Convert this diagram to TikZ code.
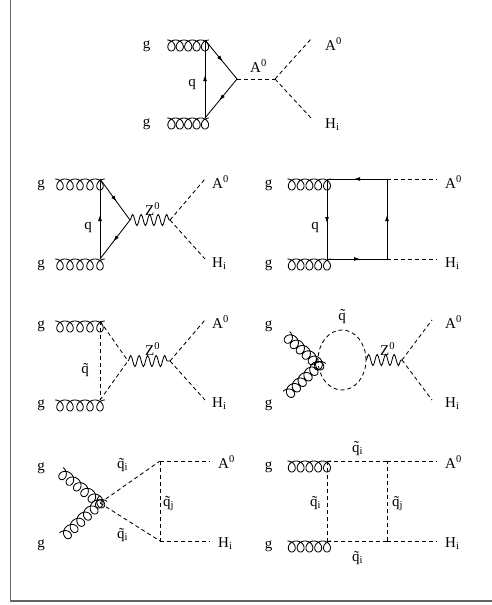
\documentclass[tikz,border=0pt]{standalone}
\usepackage{fontspec}
\setmainfont{Liberation Serif}
\usetikzlibrary{decorations.pathmorphing,decorations.markings,arrows.meta,calc}
\tikzset{
  fermion/.style={line width=0.85pt, postaction={decorate},
    decoration={markings, mark=at position 0.55 with {\arrow{Latex[length=6pt,width=4pt]}}}},
  scalar/.style={line width=0.85pt, dash pattern=on 4pt off 3pt},
  gluon/.style={line width=0.85pt, to path={
    let \p1=(\tikztostart), \p2=(\tikztotarget), \n1={(\x2-\x1)/(31.4159)} in
    plot[domain=3.14159:34.5575, samples=220, smooth, variable=\t]
      ({\x1+\n1*\t*1pt-5.5pt*sin(\t r)}, {\y1-5.5pt*(1+cos(\t r))})}},
  dgluon/.style={line width=0.85pt, to path={
    let \p1=(\tikztostart), \p2=(\tikztotarget),
        \n1={veclen(\x2-\x1,\y2-\y1)/37.6991},
        \n2={atan2(\y2-\y1,\x2-\x1)} in
    plot[domain=3.14159:40.8407, samples=260, smooth, variable=\t]
      ({\x1+(cos(\n2)*(\n1*\t-5.5*sin(\t r))+sin(\n2)*5.5*cos(\t r))*1pt},
       {\y1+(sin(\n2)*(\n1*\t-5.5*sin(\t r))-cos(\n2)*5.5*cos(\t r))*1pt})}},
  boson/.style={line width=0.85pt, decorate,
    decoration={snake, amplitude=5.5pt, segment length=8.5pt}},
  lbl/.style={font=\fontsize{15}{17}\selectfont, inner sep=0pt},
  frameline/.style={draw=black!60, line width=1.6pt}
}
\begin{document}
\begin{tikzpicture}[x=1pt,y=-1pt]
\useasboundingbox (0,0) rectangle (492,605);
\draw[frameline] (10.5,0) -- (10.5,601) -- (492,601);

% ---------- Diagram 1 ----------
\coordinate (d1ga) at (163,40);
\coordinate (d1a) at (205,40);
\coordinate (d1b) at (205,118);
\coordinate (d1gb) at (163,118);
\coordinate (d1c) at (237,79);
\coordinate (d1d) at (275,79);
\coordinate (d1e) at (311,39);
\coordinate (d1f) at (311,118);
\draw[gluon] (d1ga) to (d1a);
\draw[gluon] (d1gb) to (d1b);
\draw[fermion] (d1b) -- (d1a);
\draw[fermion] (d1a) -- (d1c);
\draw[fermion] (d1c) -- (d1b);
\draw[scalar] (d1c) -- (d1d);
\draw[scalar] (d1d) -- (d1e);
\draw[scalar] (d1d) -- (d1f);
\node[lbl, anchor=base] (l1g1) at (146.5,48.5) {g};
\node[lbl, anchor=base] (l1g2) at (146.5,126.5) {g};
\node[lbl, anchor=base] (l1q) at (192,86.5) {q};
\node[lbl, anchor=base west] (l1a) at (250,72) {A\textsuperscript{0}};
\node[lbl, anchor=base west] (l1A) at (325,50) {A\textsuperscript{0}};
\node[lbl, anchor=base west] (l1H) at (325,128) {H\textsubscript{i}};

% ---------- Diagram 2 left ----------
\coordinate (d2ga) at (50,179);
\coordinate (d2a) at (100,179);
\coordinate (d2b) at (100,259);
\coordinate (d2gb) at (50,259);
\coordinate (d2c) at (130,220);
\coordinate (d2z) at (170,220);
\coordinate (d2e) at (205,179);
\coordinate (d2f) at (205,259);
\draw[gluon] (d2ga) to (d2a);
\draw[gluon] (d2gb) to (d2b);
\draw[fermion] (d2b) -- (d2a);
\draw[fermion] (d2a) -- (d2c);
\draw[fermion] (d2c) -- (d2b);
\draw[boson] (d2c) -- (d2z);
\draw[scalar] (d2z) -- (d2e);
\draw[scalar] (d2z) -- (d2f);
\node[lbl, anchor=base] (l2g1) at (41,187.5) {g};
\node[lbl, anchor=base] (l2g2) at (41,267.5) {g};
\node[lbl, anchor=base] (l2q) at (88,229) {q};
\node[lbl, anchor=base west] (l2z) at (145,215) {Z\textsuperscript{0}};
\node[lbl, anchor=base west] (l2A) at (212,188) {A\textsuperscript{0}};
\node[lbl, anchor=base west] (l2H) at (212,267) {H\textsubscript{i}};

% ---------- Diagram 2 right ----------
\coordinate (d2rga) at (283,179);
\coordinate (d2ra) at (327,179);
\coordinate (d2rb) at (327,259);
\coordinate (d2rgb) at (283,259);
\coordinate (d2rc) at (387,259);
\coordinate (d2rd) at (387,179);
\coordinate (d2re) at (437,179);
\coordinate (d2rf) at (437,259);
\draw[gluon] (d2rga) to (d2ra);
\draw[gluon] (d2rgb) to (d2rb);
\draw[fermion] (d2ra) -- (d2rb);
\draw[fermion] (d2rb) -- (d2rc);
\draw[fermion] (d2rc) -- (d2rd);
\draw[fermion] (d2rd) -- (d2ra);
\draw[scalar] (d2rd) -- (d2re);
\draw[scalar] (d2rc) -- (d2rf);
\node[lbl, anchor=base] (l3g1) at (268.5,187.5) {g};
\node[lbl, anchor=base] (l3g2) at (268.5,267.5) {g};
\node[lbl, anchor=base] (l3q) at (315,229) {q};
\node[lbl, anchor=base west] (l3A) at (445,188) {A\textsuperscript{0}};
\node[lbl, anchor=base west] (l3H) at (445,267) {H\textsubscript{i}};

% ---------- Diagram 3 left ----------
\coordinate (d3ga) at (50,321);
\coordinate (d3a) at (100,321);
\coordinate (d3b) at (100,400);
\coordinate (d3gb) at (50,400);
\coordinate (d3c) at (128,361);
\coordinate (d3z) at (170,361);
\coordinate (d3e) at (205,320);
\coordinate (d3f) at (205,400);
\draw[gluon] (d3ga) to (d3a);
\draw[gluon] (d3gb) to (d3b);
\draw[scalar] (d3a) -- (d3b);
\draw[scalar] (d3a) -- (d3c);
\draw[scalar] (d3b) -- (d3c);
\draw[boson] (d3c) -- (d3z);
\draw[scalar] (d3z) -- (d3e);
\draw[scalar] (d3z) -- (d3f);
\node[lbl, anchor=base] (l4g1) at (41,328.5) {g};
\node[lbl, anchor=base] (l4g2) at (41,407.5) {g};
\node[lbl, anchor=base] (l4q) at (85,373.5) {\~{q}};
\node[lbl, anchor=base west] (l4z) at (145,355) {Z\textsuperscript{0}};
\node[lbl, anchor=base west] (l4A) at (212,328) {A\textsuperscript{0}};
\node[lbl, anchor=base west] (l4H) at (212,407) {H\textsubscript{i}};

% ---------- Diagram 3 right ----------
\coordinate (d3rga) at (283,333);
\coordinate (d3rgb) at (284,398);
\coordinate (d3rv) at (319,365);
\coordinate (d3rm) at (342,360);
\coordinate (d3rw) at (366,360);
\coordinate (d3rz) at (402,360);
\coordinate (d3re) at (432,320);
\coordinate (d3rf) at (432,400);
\draw[dgluon] (d3rga) to (d3rv);
\draw[dgluon] (d3rgb) to (d3rv);
\draw[scalar] (d3rm) ellipse [x radius=24pt, y radius=30pt];
\draw[boson] (d3rw) -- (d3rz);
\draw[scalar] (d3rz) -- (d3re);
\draw[scalar] (d3rz) -- (d3rf);
\node[lbl, anchor=base] (l5g1) at (268.5,328.5) {g};
\node[lbl, anchor=base] (l5g2) at (268.5,407.5) {g};
\node[lbl, anchor=base] (l5q) at (342,320) {\~{q}};
\node[lbl, anchor=base west] (l5z) at (380,355) {Z\textsuperscript{0}};
\node[lbl, anchor=base west] (l5A) at (445,328) {A\textsuperscript{0}};
\node[lbl, anchor=base west] (l5H) at (445,407) {H\textsubscript{i}};

% ---------- Diagram 4 left ----------
\coordinate (d4ga) at (56,469);
\coordinate (d4gb) at (60,540);
\coordinate (d4v) at (100,503);
\coordinate (d4a) at (160,461);
\coordinate (d4b) at (160,541);
\coordinate (d4e) at (210,461);
\coordinate (d4f) at (210,541);
\draw[dgluon] (d4ga) to (d4v);
\draw[dgluon] (d4gb) to (d4v);
\draw[scalar] (d4v) -- (d4a);
\draw[scalar] (d4v) -- (d4b);
\draw[scalar] (d4a) -- (d4b);
\draw[scalar] (d4a) -- (d4e);
\draw[scalar] (d4b) -- (d4f);
\node[lbl, anchor=base] (l6g1) at (41,470) {g};
\node[lbl, anchor=base] (l6g2) at (41,547) {g};
\node[lbl, anchor=base west] (l6q1) at (117,468.5) {\~{q}\textsubscript{i}};
\node[lbl, anchor=base west] (l6q2) at (117,538.5) {\~{q}\textsubscript{i}};
\node[lbl, anchor=base west] (l6q3) at (163,506.5) {\~{q}\textsubscript{j}};
\node[lbl, anchor=base west] (l6A) at (218,468) {A\textsuperscript{0}};
\node[lbl, anchor=base west] (l6H) at (218,547) {H\textsubscript{i}};

% ---------- Diagram 4 right ----------
\coordinate (d4rga) at (283,461);
\coordinate (d4ra) at (327,461);
\coordinate (d4rb) at (327,541);
\coordinate (d4rgb) at (283,541);
\coordinate (d4rc) at (387,541);
\coordinate (d4rd) at (387,461);
\coordinate (d4re) at (437,461);
\coordinate (d4rf) at (437,541);
\draw[gluon] (d4rga) to (d4ra);
\draw[gluon] (d4rgb) to (d4rb);
\draw[scalar] (d4ra) -- (d4rb);
\draw[scalar] (d4rb) -- (d4rc);
\draw[scalar] (d4rc) -- (d4rd);
\draw[scalar] (d4rd) -- (d4ra);
\draw[scalar] (d4rd) -- (d4re);
\draw[scalar] (d4rc) -- (d4rf);
\node[lbl, anchor=base] (l7g1) at (268.5,469) {g};
\node[lbl, anchor=base] (l7g2) at (268.5,548) {g};
\node[lbl, anchor=base west] (l7q1) at (352,452) {\~{q}\textsubscript{i}};
\node[lbl, anchor=base west] (l7q2) at (310,506.5) {\~{q}\textsubscript{i}};
\node[lbl, anchor=base west] (l7q3) at (392,506.5) {\~{q}\textsubscript{j}};
\node[lbl, anchor=base west] (l7q4) at (352,561.5) {\~{q}\textsubscript{i}};
\node[lbl, anchor=base west] (l7A) at (445,468) {A\textsuperscript{0}};
\node[lbl, anchor=base west] (l7H) at (445,547) {H\textsubscript{i}};
\end{tikzpicture}
\end{document}
